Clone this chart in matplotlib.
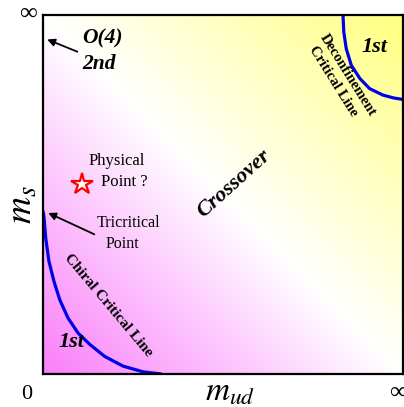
import numpy as np
import matplotlib
matplotlib.use("Agg")
import matplotlib.pyplot as plt
from matplotlib.colors import LinearSegmentedColormap

plt.rcParams['font.family'] = ['Liberation Serif', 'DejaVu Serif']
plt.rcParams['mathtext.fontset'] = 'stix'

# ---------- data (axes run 0 .. 1, i.e. 0 .. infinity) ----------
chiral_x = [0.0, 0.003, 0.008, 0.017, 0.031, 0.047, 0.07, 0.098,
            0.131, 0.172, 0.223, 0.279, 0.33]
chiral_y = [0.455, 0.44, 0.379, 0.314, 0.258, 0.207, 0.156, 0.114,
            0.082, 0.049, 0.022, 0.006, 0.0]
deconf_x = [0.834, 0.836, 0.843, 0.857, 0.881, 0.908, 0.945, 0.975, 1.0]
deconf_y = [1.0, 0.953, 0.906, 0.86, 0.823, 0.795, 0.777, 0.769, 0.765]
physical_point = (0.108, 0.53)
tricritical = (0.008, 0.452)
o4_point = (0.005, 0.935)

# ---------- figure ----------
fig = plt.figure(figsize=(4.04, 4.07), dpi=100)
ax = fig.add_axes([0.106, 0.081, 0.891, 0.882])

# diagonal background: magenta -> white -> yellow
cmap = LinearSegmentedColormap.from_list(
    'bg', [(0.0, '#fa7ffa'), (0.5, '#ffffff'), (1.0, '#ffff80')])
gx, gy = np.meshgrid(np.linspace(0, 1, 300), np.linspace(0, 1, 300))
ax.imshow((gx + gy) / 2, cmap=cmap, origin='lower', extent=[0, 1, 0, 1],
          vmin=0, vmax=1, aspect='auto', interpolation='bilinear', zorder=0)

ax.plot(chiral_x, chiral_y, color='#0000e6', lw=2.3, zorder=2,
        solid_capstyle='butt', solid_joinstyle='round')
ax.plot(deconf_x, deconf_y, color='#0000e6', lw=2.3, zorder=2,
        solid_capstyle='butt', solid_joinstyle='round')

ax.plot(*physical_point, marker='*', ms=16, mfc='white', mec='red',
        mew=1.6, zorder=3)

ax.set_xlim(0, 1)
ax.set_ylim(0, 1)
ax.set_xticks([])
ax.set_yticks([])
for sp in ax.spines.values():
    sp.set_linewidth(1.6)
    sp.set_zorder(4)

bi = dict(fontweight='bold', fontstyle='italic', color='black')

ax.text(0.11, 0.935, 'O(4)', fontsize=15.5, va='center', ha='left', **bi)
ax.text(0.11, 0.865, '2nd', fontsize=15.5, va='center', ha='left', **bi)
ax.annotate('', xy=o4_point, xytext=(0.103, 0.895),
            arrowprops=dict(arrowstyle='-|>', color='black', lw=1.3,
                            mutation_scale=11))

ax.text(0.922, 0.91, '1st', fontsize=16, ha='center', va='center', **bi)
ax.text(0.08, 0.088, '1st', fontsize=16, ha='center', va='center', **bi)

ax.text(0.846, 0.833, 'Deconfinement', fontsize=10.5, rotation=-58,
        ha='center', va='center', fontweight='bold')
ax.text(0.807, 0.815, 'Critical Line', fontsize=10.5, rotation=-58,
        ha='center', va='center', fontweight='bold')

ax.text(0.53, 0.53, 'Crossover', fontsize=16, rotation=42,
        ha='center', va='center', **bi)

ax.text(0.181, 0.19, 'Chiral Critical Line', fontsize=11, rotation=-50,
        ha='center', va='center', fontweight='bold')

ax.text(0.205, 0.593, 'Physical', fontsize=12, ha='center', va='center')
ax.text(0.225, 0.534, 'Point ?', fontsize=12, ha='center', va='center')

ax.text(0.237, 0.421, 'Tricritical', fontsize=11.5, ha='center', va='center')
ax.text(0.22, 0.362, 'Point', fontsize=11.5, ha='center', va='center')
ax.annotate('', xy=tricritical, xytext=(0.15, 0.386),
            arrowprops=dict(arrowstyle='-|>', color='black', lw=1.3,
                            mutation_scale=11))

# axis labels and end marks
fig.text(0.055, 0.496, r'$m_s$', fontsize=27, rotation=90,
         ha='center', va='center')
fig.text(0.57, 0.036, r'$m_{ud}$', fontsize=24, ha='center', va='center')
fig.text(0.067, 0.03, '0', fontsize=16, ha='center', va='center')
fig.text(0.069, 0.966, '\u221e', fontsize=18, ha='center', va='center')
fig.text(0.962, 0.035, '\u221e', fontsize=18, ha='left', va='center')

fig.savefig('out.png', dpi=100)
